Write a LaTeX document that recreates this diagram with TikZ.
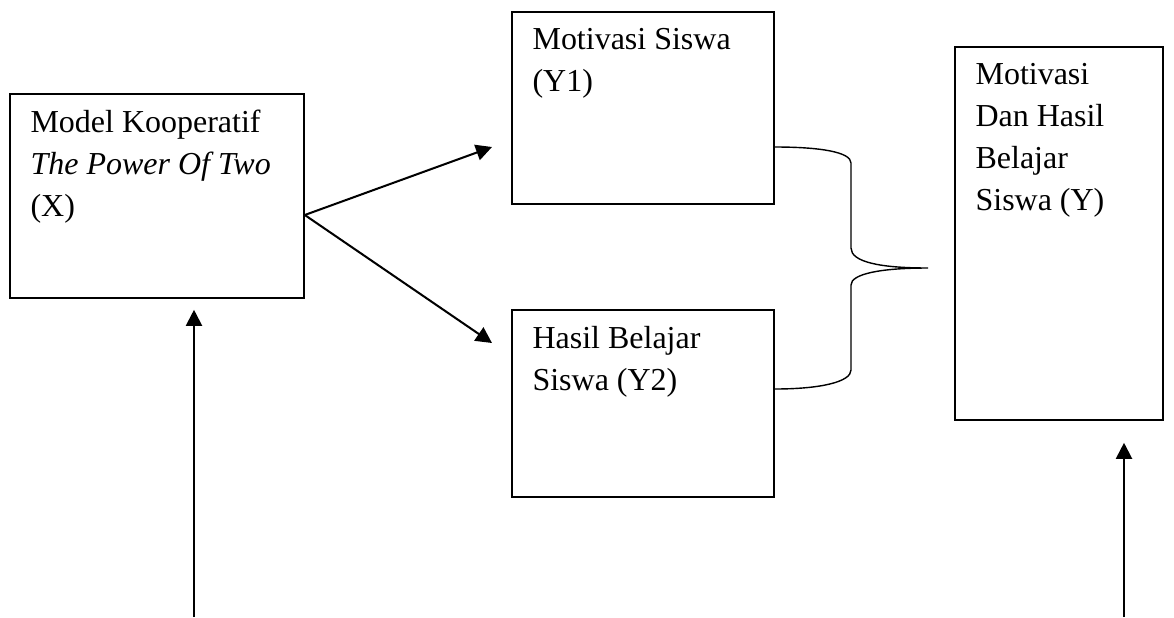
\documentclass[tikz,border=0pt]{standalone}
\usepackage{fontspec}
\setmainfont{Liberation Serif}
\usetikzlibrary{arrows.meta}

\begin{document}
\begin{tikzpicture}[
  box/.style={rectangle, draw, line width=0.9pt, inner sep=0pt},
  boxtext/.style={anchor=north west, align=left, inner sep=0pt,
    font=\fontsize{18.2pt}{23.9pt}\selectfont,
    execute at begin node={\rule{0pt}{14pt}}},
  flow/.style={->, line width=1.15pt},
  >={Triangle[length=0.32cm, width=0.32cm]}
]
  \useasboundingbox (0,0) rectangle (23.48,12.34);

  % Boxes
  \node[box, minimum width=5.88cm, minimum height=4.08cm] (x)  at (3.14, 8.42)  {};
  \node[box, minimum width=5.24cm, minimum height=3.84cm] (y1) at (12.86, 10.18) {};
  \node[box, minimum width=5.24cm, minimum height=3.74cm] (y2) at (12.86, 4.27)  {};
  \node[box, minimum width=4.16cm, minimum height=7.46cm] (y)  at (21.18, 7.67)  {};

  % Texts, top left inside each box
  \node[boxtext] (xtext)  at ([shift={(0.42,-0.326)}]x.north west)
    {Model Kooperatif\\\textit{The Power Of Two}\\(X)};
  \node[boxtext] (y1text) at ([shift={(0.42,-0.326)}]y1.north west)
    {Motivasi Siswa\\(Y1)};
  \node[boxtext] (y2text) at ([shift={(0.42,-0.326)}]y2.north west)
    {Hasil Belajar\\Siswa (Y2)};
  \node[boxtext] (ytext)  at ([shift={(0.42,-0.326)}]y.north west)
    {Motivasi\\Dan Hasil\\Belajar\\Siswa (Y)};

  % X -> Y1 and X -> Y2
  \coordinate (xout) at ([yshift=-0.38cm]x.east);
  \coordinate (y1in) at (9.84, 9.40);
  \coordinate (y2in) at (9.84, 5.48);
  \draw[flow] (xout) -- (y1in);
  \draw[flow] (xout) -- (y2in);

  % Brace joining Y1 and Y2
  \coordinate (btop) at ([yshift=-0.78cm]y1.east);
  \coordinate (bbot) at ([yshift=0.29cm]y2.east);
  \coordinate (btip) at (18.56, 6.98);
  \draw[line width=0.8pt]
    (btop) .. controls (16.4, 9.40) and (17.02, 9.30) .. (17.02, 9.08)
    -- (17.02, 7.38) .. controls (17.02, 7.10) and (17.6, 6.98) .. (btip)
    .. controls (17.6, 6.98) and (17.02, 6.86) .. (17.02, 6.64)
    -- (17.02, 4.94) .. controls (17.02, 4.70) and (16.4, 4.56) .. (bbot);

  % Arrows from below
  \coordinate (xfoot) at (3.88, 0);
  \coordinate (yfoot) at (22.48, 0);
  \draw[flow] (xfoot) -- ([yshift=-0.22cm]x.south -| xfoot);
  \draw[flow] (yfoot) -- ([yshift=-0.44cm]y.south -| yfoot);
\end{tikzpicture}
\end{document}
